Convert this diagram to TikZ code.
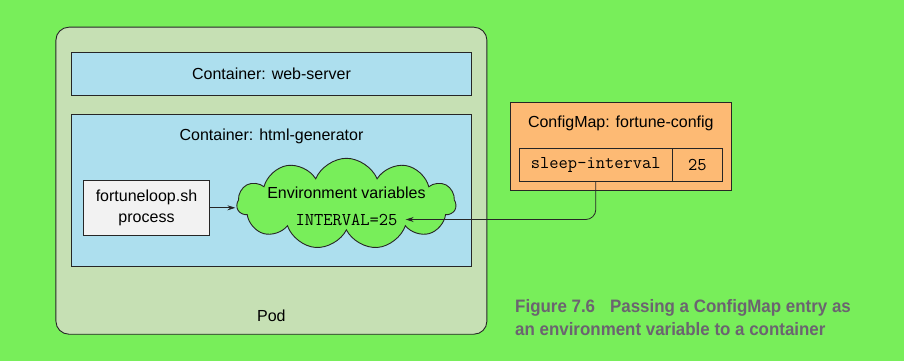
\documentclass[tikz,border=0pt]{standalone}
\usepackage{fontspec}
\setmainfont{Liberation Sans}
\newfontfamily\captionfont[FakeStretch=0.94]{Liberation Sans Bold}
\usetikzlibrary{arrows.meta,shapes.symbols}
\definecolor{bggreen}{HTML}{78EE5A}
\definecolor{podfill}{HTML}{C6E0B4}
\definecolor{ctrblue}{HTML}{ADDFEE}
\definecolor{cfgorange}{HTML}{FDBA74}
\definecolor{procgray}{HTML}{F2F2F2}
\definecolor{captiongray}{HTML}{6B6470}
\definecolor{edge}{HTML}{262626}
\tikzset{
  box/.style={draw=edge, line width=0.9pt, inner sep=0pt},
  label16/.style={font=\fontsize{16}{19}\selectfont, text=black, inner sep=0pt},
  mono16/.style={font=\ttfamily\fontsize{18}{20}\selectfont, text=black, inner sep=0pt},
  link/.style={draw=edge, line width=0.8pt, -{Stealth[length=8pt,width=5pt]}},
}
\begin{document}
\begin{tikzpicture}[x=1pt,y=-1pt]
  \useasboundingbox[fill=bggreen] (0,0) rectangle (904,361);

  % Pod
  \node[box, fill=podfill, rounded corners=13pt, minimum width=431pt, minimum height=307pt]
    (pod) at (271.4,180.7) {};
  \node[label16] (podlbl) at (271.4,315.3) {Pod};

  % Container: web-server
  \node[box, fill=ctrblue, minimum width=400.4pt, minimum height=43pt]
    (web) at (271.5,73.8) {};
  \node[label16] (weblbl) at (web.center) {Container: web-server};

  % Container: html-generator
  \node[box, fill=ctrblue, minimum width=400.4pt, minimum height=152.4pt]
    (html) at (271.5,190.5) {};
  \node[label16] (htmllbl) at (271.5,136) {Container: html-generator};

  % Process
  \node[box, fill=procgray, minimum width=126.4pt, minimum height=55pt, align=center,
        font=\fontsize{16}{21.5}\selectfont] (proc) at (146.5,207.8)
    {fortuneloop.sh\\process};

  % Environment variables cloud
  \node[cloud, cloud puffs=11, cloud puff arc=135, cloud ignores aspect,
        draw=edge, line width=0.9pt, fill=bggreen,
        minimum width=219pt, minimum height=91pt, inner sep=0pt]
    (env) at (346.4,203.8) {};
  \node[label16] (envlbl) at (346.4,193) {Environment variables};
  \node[mono16] (ivar) at (346.5,219.5) {INTERVAL=25};

  % ConfigMap
  \node[box, fill=cfgorange, minimum width=221pt, minimum height=87.3pt]
    (cfg) at (620.8,146.3) {};
  \node[label16] (cfglbl) at (620.8,123.5) {ConfigMap: fortune-config};
  \node[box, fill=cfgorange, minimum width=153pt, minimum height=32.3pt]
    (key) at (595.8,164.9) {};
  \node[mono16] (keylbl) at (key.center) {sleep-interval};
  \node[box, fill=cfgorange, minimum width=50pt, minimum height=32.3pt]
    (val) at (697.3,164.9) {};
  \node[mono16] (vallbl) at (val.center) {25};

  % Connectors
  \draw[link] (proc.east) -- ([xshift=-1pt]proc.east -| env.west);
  \draw[link, rounded corners=10pt] (key.south) |- ([xshift=8pt]ivar.east);

  % Caption
  \node[anchor=base west, inner sep=0pt, text=captiongray,
        font=\captionfont\fontsize{18}{23}\selectfont] (cap1) at (515,312)
    {Figure 7.6\hspace{15pt}Passing a ConfigMap entry as};
  \node[anchor=base west, inner sep=0pt, text=captiongray,
        font=\captionfont\fontsize{18}{23}\selectfont] (cap2) at (515,335)
    {an environment variable to a container};
\end{tikzpicture}
\end{document}
